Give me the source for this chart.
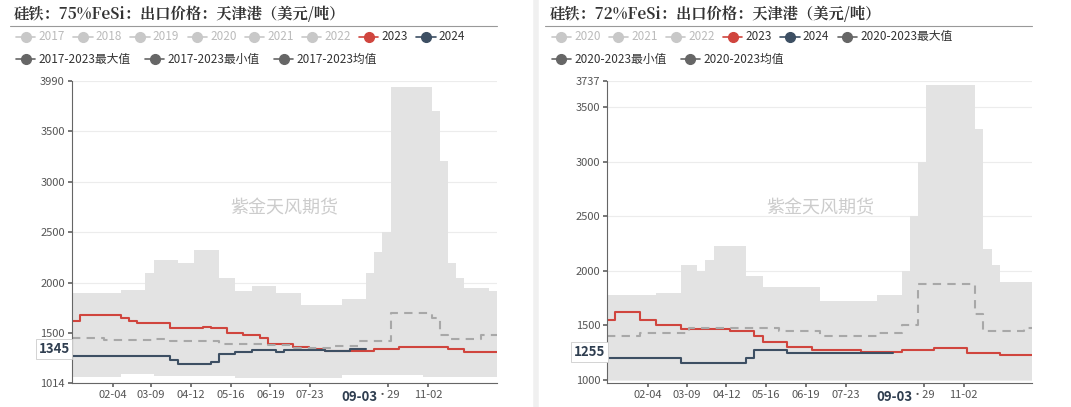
import numpy as np, pandas as pd, seaborn as sns, matplotlib
matplotlib.use("Agg")
import matplotlib.pyplot as plt
from matplotlib.lines import Line2D

sns.set_theme(style="white")
plt.rcParams['font.family'] = ['Microsoft YaHei', 'Noto Sans CJK SC', 'DejaVu Sans']

tick_days = [35, 68, 102, 136, 170, 204, 271, 305]
tick_labels = ["02-04", "03-09", "04-12", "05-16", "06-19", "07-23", "·29", "11-02"]

def rep(pairs):
    out = []
    for v, n in pairs:
        out += [v] * n
    return out

# Left: 75%FeSi, weekly
L_max = rep([(1900,6),(1930,3),(2100,1),(2230,3),(2200,2),(2320,3),(2050,2),(1920,2),(1970,3),(1900,3),(1780,5),(1840,3),(2100,1),(2300,1),(2500,1),(3930,5),(3700,1),(3200,1),(2200,1),(2050,1),(1950,3),(1920,2)])
L_min = rep([(1070,6),(1100,4),(1080,10),(1060,13),(1090,10),(1070,10)])
L_2023 = rep([(1620,1),(1680,5),(1650,1),(1620,1),(1600,4),(1550,4),(1560,1),(1550,2),(1500,2),(1480,2),(1450,1),(1400,3),(1370,2),(1350,2),(1330,6),(1345,3),(1370,6),(1350,2),(1320,5)])
L_2024 = rep([(1280,12),(1240,1),(1200,4),(1220,1),(1300,2),(1320,2),(1340,3),(1320,1),(1340,5),(1330,3),(1345,3)])
L_mean = rep([(1450,4),(1430,6),(1440,2),(1420,6),(1400,6),(1390,3),(1360,5),(1380,3),(1420,4),(1700,5),(1650,1),(1480,1),(1440,4),(1480,3)])

# Right: 72%FeSi
R_max = rep([(1780,6),(1800,3),(2050,2),(2000,1),(2100,1),(2230,4),(1950,2),(1850,7),(1720,7),(1780,3),(2000,1),(2500,1),(3000,1),(3700,6),(3300,1),(2200,1),(2050,1),(1900,5)])
R_min = rep([(1000,53)])
R_2023 = rep([(1550,1),(1620,3),(1550,2),(1500,3),(1470,6),(1450,3),(1400,1),(1350,3),(1300,3),(1270,6),(1255,5),(1270,4),(1290,4),(1250,4),(1230,5)])
R_2024 = rep([(1200,9),(1150,8),(1200,1),(1270,4),(1250,14)])
R_mean = rep([(1400,4),(1430,6),(1480,11),(1450,5),(1400,7),(1430,3),(1500,2),(1880,7),(1600,1),(1450,5),(1480,2)])

fig = plt.figure(figsize=(10.71, 4.07), dpi=100)
RED = "#d0453e"; BLUE = "#3d4f63"

def steps(ax, vals, **kw):
    d = pd.DataFrame({"d": np.arange(len(vals)) * 7, "v": vals})
    sns.lineplot(data=d, x="d", y="v", ax=ax, drawstyle="steps-post", **kw)

def panel(x0, title, mx, mn, r23, r24, mean, ylim, yticks, cur, years, rng):
    ax = fig.add_axes([x0 + 0.067, 0.06, 0.397, 0.74])
    n = min(len(mx), len(mn))
    ax.fill_between(np.arange(n) * 7, mn[:n], mx[:n], step="post", color="#e3e3e3", lw=0)
    steps(ax, r23, color=RED, lw=1.5)
    steps(ax, r24, color=BLUE, lw=1.5)
    steps(ax, mean, color="#a8a8a8", lw=1.5, ls=(0, (4, 3)))
    ax.set_xlim(0, 364); ax.set_ylim(*ylim)
    ax.set_yticks(yticks); ax.set_yticklabels([str(t) for t in yticks], fontsize=8, color="#555")
    ax.set_xticks(tick_days); ax.set_xticklabels(tick_labels, fontsize=8, color="#555")
    ax.set_xlabel(""); ax.set_ylabel("")
    for s in ["top", "right"]:
        ax.spines[s].set_visible(False)
    for s in ["left", "bottom"]:
        ax.spines[s].set_color("#666"); ax.spines[s].set_linewidth(0.8)
    ax.tick_params(axis="both", length=3, color="#666", pad=2, left=True, bottom=True)
    for t in yticks:
        ax.axhline(t, color="#ececec", lw=0.8, zorder=0)
    ax.text(246, ylim[0] - (ylim[1]-ylim[0])*0.025, "09-03", ha="center", va="top", fontsize=9.5,
            fontweight="bold", color="#2f3e50")
    ax.text(-0.005, cur, str(cur), transform=ax.get_yaxis_transform(), ha="right", va="center",
            fontsize=9.5, fontweight="bold", color="#2f3e50",
            bbox=dict(boxstyle="square,pad=0.2", fc="white", ec="#ccc", lw=0.6))
    ax.text(0.5, 0.58, "紫金天风期货", transform=ax.transAxes, ha="center", va="center",
            fontsize=13, color="#cccccc")
    fig.text(x0 + 0.013, 0.965, title, fontsize=11, fontweight="bold", color="#333", va="center",
             family=['Noto Serif CJK SC', 'Noto Sans CJK SC', 'DejaVu Sans'])
    fig.add_artist(Line2D([x0 + 0.009, x0 + 0.464], [0.935, 0.935], color="#999", lw=0.8))
    items = [(y, "#c8c8c8", "#bbb") for y in years] + [("2023", RED, "#333"), ("2024", BLUE, "#333")] + \
            [(rng + s, "#666", "#333") for s in ["最大值", "最小值", "均值"]]
    xx = x0 + 0.015; yy = 0.91
    for lab, col, tc in items:
        w = 0.018 + len(lab.encode("gbk")) * 0.0061 + 0.011
        if xx + w > x0 + 0.47:
            xx = x0 + 0.015; yy -= 0.055
        fig.add_artist(Line2D([xx, xx + 0.018], [yy, yy], color=col, lw=1.2))
        fig.add_artist(Line2D([xx + 0.009], [yy], marker="o", ms=7, color=col))
        fig.text(xx + 0.021, yy, lab, fontsize=8.5, color=tc, va="center")
        xx += w

panel(0.0, "硅铁：75%FeSi：出口价格：天津港（美元/吨）", L_max, L_min, L_2023, L_2024, L_mean,
      (1014, 3990), [1014, 1500, 2000, 2500, 3000, 3500, 3990], 1345,
      ["2017", "2018", "2019", "2020", "2021", "2022"], "2017-2023")
panel(0.5, "硅铁：72%FeSi：出口价格：天津港（美元/吨）", R_max, R_min, R_2023, R_2024, R_mean,
      (975, 3737), [1000, 1500, 2000, 2500, 3000, 3500, 3737], 1255,
      ["2020", "2021", "2022"], "2020-2023")
fig.add_artist(Line2D([0.5, 0.5], [0, 1], color="#f0f0f0", lw=4))
fig.savefig("out.png", dpi=100)
